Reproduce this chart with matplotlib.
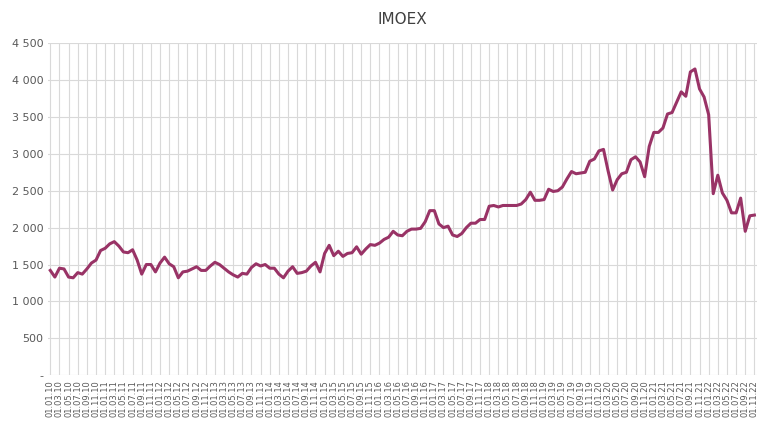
import matplotlib
matplotlib.use("Agg")
import matplotlib.pyplot as plt
import pandas as pd

dates = pd.date_range("2010-01-01", "2022-11-01", freq="MS")
values = [
 1420,1330,1450,1440,1330,1320,1390,1370,1440,1520,1560,1690,
 1720,1780,1810,1750,1670,1660,1700,1560,1370,1500,1500,1400,
 1520,1600,1510,1470,1320,1400,1410,1440,1470,1420,1420,1480,
 1530,1500,1450,1400,1360,1330,1380,1370,1460,1510,1480,1500,
 1450,1450,1370,1320,1410,1470,1380,1390,1410,1480,1530,1400,
 1650,1760,1620,1680,1610,1650,1660,1740,1640,1710,1770,1760,
 1790,1840,1870,1950,1900,1890,1950,1980,1980,1990,2080,2230,
 2230,2050,2000,2020,1900,1880,1920,2000,2060,2060,2110,2110,
 2290,2300,2280,2300,2300,2300,2300,2320,2380,2480,2370,2370,
 2380,2520,2490,2500,2550,2660,2760,2730,2740,2750,2900,2930,
 3040,3060,2770,2510,2650,2730,2750,2920,2960,2890,2690,3100,
 3290,3290,3350,3540,3560,3700,3840,3780,4110,4150,3880,3770,
 3530,2460,2710,2470,2370,2200,2200,2400,1950,2160,2170,
]
yticks = list(range(0, 4501, 500))
ylabels = ["-"] + [f"{v:,}".replace(",", " ") for v in yticks[1:]]

fig = plt.figure(figsize=(7.62, 4.23), dpi=100)
ax = fig.add_axes([0.063, 0.113, 0.93, 0.785])
x = list(range(len(values)))
ax.plot(x, values, color="#993366", lw=2.2)
ax.set_xlim(-0.5, len(values) - 0.5)
ax.set_ylim(0, 4500)
ax.set_yticks(yticks)
ax.set_yticklabels(ylabels, fontsize=8, color="#595959")
ticks = x[::2]
ax.set_xticks(ticks)
ax.set_xticklabels([dates[i].strftime("%d.%m.%y") for i in ticks], rotation=90, fontsize=6, color="#595959")
ax.grid(True, color="#d9d9d9", lw=0.8)
ax.set_axisbelow(True)
for s in ax.spines.values():
    s.set_visible(False)
ax.tick_params(length=0)
ax.set_title("IMOEX", fontsize=11, color="#404040", pad=14)
fig.savefig("out.png", dpi=100)
